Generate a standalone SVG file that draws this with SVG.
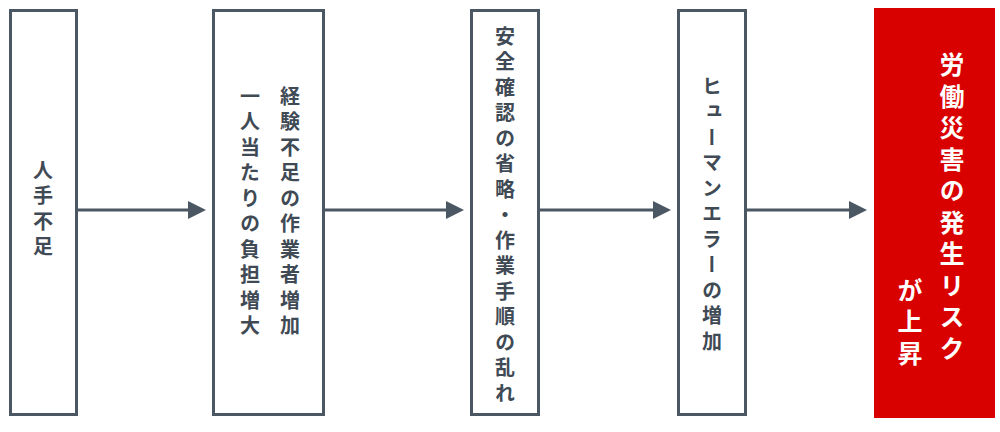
<svg xmlns="http://www.w3.org/2000/svg" width="1000" height="432" viewBox="0 0 1000 432">
<style>
.box{fill:#fff;stroke:#4b5763;stroke-width:3}
.t{font-family:"Noto Sans CJK JP","Noto Sans",sans-serif;font-weight:bold;font-size:20px;fill:#3f4a55;writing-mode:vertical-rl;letter-spacing:5.5px}
.w{font-family:"Noto Sans CJK JP","Noto Sans",sans-serif;font-weight:bold;font-size:25px;fill:#fff;writing-mode:vertical-rl;letter-spacing:6.5px}
.c{stroke:#4b5763;stroke-width:3;fill:none;marker-end:url(#a)}
</style>
<defs><marker id="a" markerWidth="6" markerHeight="6" refX="4" refY="3" orient="auto"><path d="M0,0L6,3L0,6Z" fill="#4b5763"/></marker></defs>
<g id="connectors">
<line class="c" x1="78" y1="210" x2="200" y2="210"/>
<line class="c" x1="325" y1="210" x2="458" y2="210"/>
<line class="c" x1="540" y1="210" x2="665" y2="210"/>
<line class="c" x1="747" y1="210" x2="861" y2="210"/>
</g>
<g id="n1"><rect class="box" x="10.5" y="10.5" width="66" height="404"/><text class="t" x="43" y="160">人手不足</text></g>
<g id="n2"><rect class="box" x="213.5" y="10.5" width="110" height="404"/><text class="t" x="290" y="86">経験不足の作業者増加</text><text class="t" x="250" y="86">一人当たりの負担増大</text></g>
<g id="n3"><rect class="box" x="471.5" y="10.5" width="67" height="404"/><text class="t" x="505" y="26">安全確認の省略・作業手順の乱れ</text></g>
<g id="n4"><rect class="box" x="678.5" y="10.5" width="67" height="404"/><text class="t" x="712" y="76">ヒューマンエラーの増加</text></g>
<g id="n5"><rect x="874" y="8" width="121" height="410" fill="#d90000"/><text class="w" x="952" y="52">労働災害の発生リスク</text><text class="w" x="910" y="372" text-anchor="end">が上昇</text></g>
</svg>
